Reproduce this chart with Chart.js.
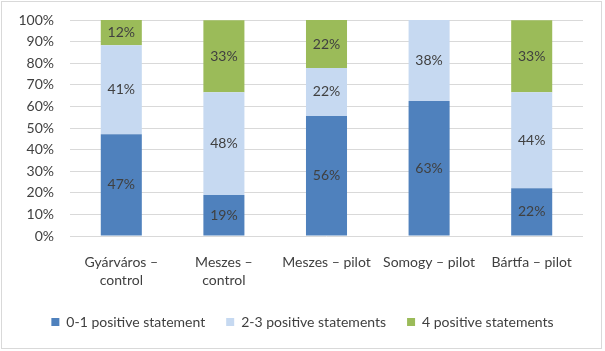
<!DOCTYPE html>
<html>
<head>
<meta charset="utf-8">
<script src="https://cdn.jsdelivr.net/npm/chart.js@4"></script>
<style>
  html, body { margin: 0; padding: 0; background: #fff; }
  #wrap { width: 605px; height: 351px; position: relative; }
</style>
</head>
<body>
<div id="wrap"><canvas id="c" width="605" height="351"></canvas></div>
<script>
const categories = [["Gyárváros –", "control"], ["Meszes –", "control"], "Meszes – pilot", "Somogy – pilot", "Bártfa – pilot"];
const seriesNames = ["0-1 positive statement", "2-3 positive statements", "4 positive statements"];
const low = [47.1, 19.0, 55.6, 62.5, 22.2];
const mid = [41.2, 47.6, 22.2, 37.5, 44.4];
const high = [11.8, 33.3, 22.2, 0, 33.3];
const yTicks = [0, 10, 20, 30, 40, 50, 60, 70, 80, 90, 100];

const colors = ["#4f81bd", "#c6d9f1", "#9bbb59"];
const FONT = "Lato, 'Open Sans', sans-serif";

const frame = {
  id: 'frame',
  beforeDraw(chart) {
    const ctx = chart.ctx;
    ctx.save();
    ctx.fillStyle = '#fff';
    ctx.fillRect(0, 0, chart.width, chart.height);
    ctx.strokeStyle = '#d9d9d9';
    ctx.lineWidth = 1;
    ctx.strokeRect(1.5, 1.5, 600, 347);
    ctx.restore();
  }
};

const labelsPlugin = {
  id: 'barLabels',
  afterDatasetsDraw(chart) {
    const ctx = chart.ctx;
    ctx.save();
    ctx.font = "14px " + FONT;
    ctx.fillStyle = '#404040';
    ctx.textAlign = 'center';
    ctx.textBaseline = 'middle';
    chart.data.datasets.forEach((ds, i) => {
      const meta = chart.getDatasetMeta(i);
      meta.data.forEach((el, j) => {
        const v = ds.data[j];
        if (!v) return;
        const top = Math.max(el.y, chart.chartArea.top);
        ctx.fillText(Math.round(v) + '%', el.x, (top + el.base) / 2);
      });
    });
    ctx.restore();
  }
};

new Chart(document.getElementById('c'), {
  type: 'bar',
  data: {
    labels: categories,
    datasets: [
      { label: seriesNames[0], data: low, backgroundColor: colors[0] },
      { label: seriesNames[1], data: mid, backgroundColor: colors[1] },
      { label: seriesNames[2], data: high, backgroundColor: colors[2] }
    ]
  },
  options: {
    responsive: false,
    animation: false,
    devicePixelRatio: 1,
    layout: { padding: { left: 0, right: 0, top: 20, bottom: 12 } },
    datasets: { bar: { categoryPercentage: 1, barPercentage: 0.4 } },
    scales: {
      x: {
        stacked: true,
        grid: { display: false, drawTicks: false },
        border: { display: false },
        afterFit(scale) { scale.height -= 12.5; scale.paddingLeft = 0; scale.paddingRight = 0; },
        ticks: { color: '#404040', font: { family: FONT, size: 14, lineHeight: 1.3 }, padding: 17, maxRotation: 0, autoSkip: false }
      },
      y: {
        stacked: true,
        min: 0, max: 100,
        afterFit(scale) { scale.width = 70; scale.paddingTop = 0; scale.paddingBottom = 0; },
        afterBuildTicks(scale) { scale.ticks = yTicks.map(v => ({ value: v })); },
        grid: { color: '#d9d9d9', drawTicks: false },
        border: { display: false },
        ticks: { color: '#404040', font: { family: FONT, size: 14 }, padding: 16, callback: v => v + '%' }
      },
      yRight: {
        position: 'right',
        display: true,
        min: 0, max: 100,
        afterFit(scale) { scale.width = 22; scale.paddingTop = 0; scale.paddingBottom = 0; },
        grid: { display: false, drawTicks: false },
        border: { display: false },
        ticks: { display: false }
      }
    },
    plugins: {
      legend: {
        position: 'bottom',
        labels: { color: '#404040', font: { family: FONT, size: 14 }, boxWidth: 8, boxHeight: 8, padding: 21 }
      },
      tooltip: { enabled: false }
    }
  },
  plugins: [frame, labelsPlugin]
});
</script>
</body>
</html>
